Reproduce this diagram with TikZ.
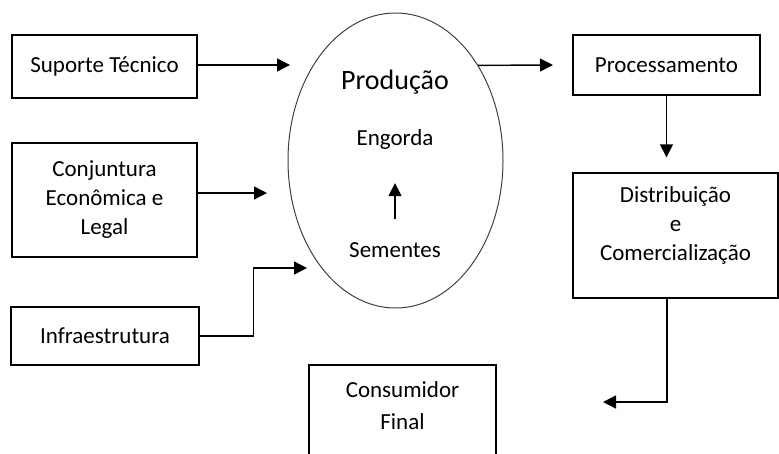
\documentclass[tikz,border=0pt]{standalone}
\usepackage{fontspec}
\setmainfont{Carlito}
\usetikzlibrary{arrows.meta,positioning,shapes.geometric}

\begin{document}
\begin{tikzpicture}[x=1pt,y=-1pt,
  box/.style={draw=black,line width=1.4pt,align=center,inner sep=0pt,
     font=\fontsize{23}{29}\selectfont},
  oval/.style={ellipse,draw=black!75,line width=1pt,inner sep=0pt,
     minimum width=215pt,minimum height=295pt},
  lbl/.style={inner sep=1pt,font=\fontsize{23}{29}\selectfont},
  arr/.style={-{Triangle[length=13pt,width=13pt]},line width=1.4pt}]
\useasboundingbox (0,0) rectangle (779,453);
\node[box,minimum width=185pt,minimum height=63pt] (sup) at (104.5,66.5) {Suporte Técnico};
\node[box,minimum width=185pt,minimum height=114pt] (conj) at (104.5,200) {Conjuntura\\Econômica e\\Legal};
\node[box,minimum width=188pt,minimum height=58pt] (infra) at (105,336) {Infraestrutura};
\node[oval] (prod) at (395.5,160.5) {};
\node[lbl,font=\fontsize{28}{32}\selectfont] (prodt) at (395,82) {Produção};
\node[lbl] (eng) at (395,139) {Engorda};
\node[lbl] (sem) at (395,250) {Sementes};
\node[box,minimum width=187pt,minimum height=60pt] (proc) at (666.5,65) {Processamento};
\node[box,minimum width=205pt,minimum height=125pt,text depth=24pt] (dist) at (675.5,235.5) {Distribuição\\e\\Comercialização};
\node[box,minimum width=187pt,minimum height=110pt,text depth=28pt] (cons) at (402.5,420) {Consumidor\\[3pt]Final};
\coordinate (in1) at (290,65);
\coordinate (in2) at (267,193);
\coordinate (in3) at (307,268);
\coordinate (out1) at (553,65);
\coordinate (out3) at (603,402);
\draw[arr] (sup.east |- in1) -- (in1);
\draw[arr] (conj.east |- in2) -- (in2);
\draw[arr] (infra.east) -- ++(54,0) |- (in3);
\draw[arr,shorten <=22pt,shorten >=33pt] (sem.north) -- (eng.south);
\draw[arr] (prod.49) -- (out1);
\draw[arr,shorten >=15pt] (proc.south) -- (proc.south |- dist.north);
\draw[arr] ([xshift=-8.5pt]dist.south) |- (out3);
\end{tikzpicture}
\end{document}
